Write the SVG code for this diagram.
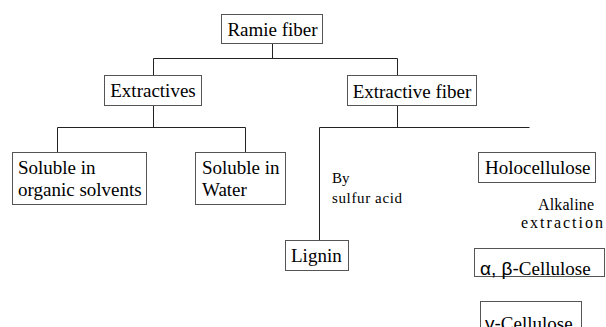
<svg xmlns="http://www.w3.org/2000/svg" width="606" height="327" viewBox="0 0 606 327">
<style>
.box{fill:#fff;stroke:#555;stroke-width:1}
.t{font-family:"Liberation Serif","Times New Roman",serif;font-size:19px;fill:#000}
.s{font-family:"Liberation Serif","Times New Roman",serif;font-size:15px;fill:#000}
.s16{font-size:16px}
.g{font-family:"Liberation Sans",Arial,sans-serif}
.c{fill:none;stroke:#222;stroke-width:1}
</style>
<rect width="606" height="327" fill="#fff"/>
<g id="connectors">
<path class="c" d="M272.5 43.5V58.5M153.5 58.5H397.5M153.5 58.5V75M397.5 58.5V75"/>
<path class="c" d="M153.5 105V127.5M57.5 127.5H245.5M57.5 127.5V152M245.5 127.5V152"/>
<path class="c" d="M397.5 105V127.5M319.5 127.5H529.5M319.5 127.5V240"/>
</g>
<g id="ramie"><rect class="box" x="221.5" y="14.5" width="101" height="29"/><text class="t" x="272.5" y="35.5" text-anchor="middle">Ramie fiber</text></g>
<g id="extractives"><rect class="box" x="104.5" y="75.5" width="97" height="30"/><text class="t" x="153" y="97" text-anchor="middle">Extractives</text></g>
<g id="extractive-fiber"><rect class="box" x="347.5" y="75.5" width="129" height="30"/><text class="t" x="412" y="97.5" text-anchor="middle">Extractive fiber</text></g>
<g id="organic"><rect class="box" x="12.5" y="152.5" width="134" height="52"/><text class="t" x="18" y="174">Soluble in</text><text class="t" x="18" y="196">organic solvents</text></g>
<g id="water"><rect class="box" x="195.5" y="152.5" width="90" height="52"/><text class="t" x="202" y="174">Soluble in</text><text class="t" x="202" y="196">Water</text></g>
<g id="sulfur-label"><text class="s" x="332" y="183">By</text><text class="s" x="332" y="203" textLength="70" lengthAdjust="spacing">sulfur acid</text></g>
<g id="lignin"><rect class="box" x="285.5" y="240.5" width="63" height="30"/><text class="t" x="291" y="262">Lignin</text></g>
<g id="holocellulose"><rect class="box" x="478.5" y="152.5" width="117" height="30"/><text class="t" x="485" y="174">Holocellulose</text></g>
<g id="alkaline-label"><text class="s s16" x="538" y="210" textLength="56" lengthAdjust="spacing">Alkaline</text><text class="s s16" x="521" y="228" textLength="82" lengthAdjust="spacing">extraction</text></g>
<g id="ab-cellulose"><rect class="box" x="474.5" y="248.5" width="130" height="28"/><text class="t" x="480" y="274.5"><tspan class="g">α, β-</tspan>Cellulose</text></g>
<g id="g-cellulose"><rect class="box" x="480.5" y="301.5" width="101" height="30"/><text class="t" x="485" y="330"><tspan class="g">γ-</tspan>Cellulose</text></g>
</svg>
